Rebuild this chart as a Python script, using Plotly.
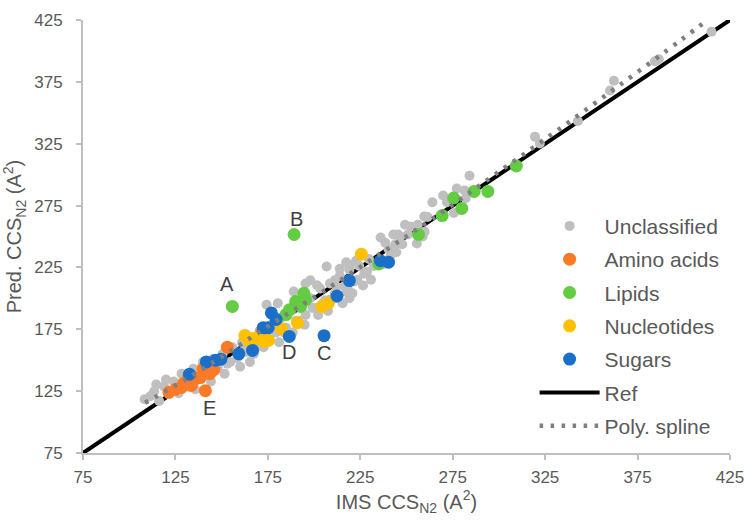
import plotly.graph_objects as go

# ---------------- data ----------------
unclassified_x = [108.3, 111.4, 113.5, 116.2, 118.8, 121.5, 124.1, 126.7, 128.3, 132.0, 134.7, 137.3,
                  139.9, 142.6, 145.2, 147.9, 150.5, 153.1, 155.8, 158.4, 161.1, 163.7, 166.3, 169.0,
                  170.6, 174.3, 176.9, 179.5, 182.2, 184.8, 187.5, 190.1, 192.7, 195.4, 198.0, 200.7,
                  203.3, 205.9, 208.6, 211.2, 213.9, 216.5, 219.1, 221.8, 224.4, 227.1, 229.7, 232.3,
                  236.0, 240.3, 244.0, 246.6, 249.2, 252.4, 255.6, 259.8, 261.4, 264.0, 269.8, 271.9,
                  275.6, 277.2, 281.4, 282.0, 284.1, 319.5, 322.1, 342.7, 360.1, 362.2, 384.4, 386.5,
                  415.0,
                  114.6, 119.9, 125.2, 130.4, 135.7, 138.9, 144.2, 146.3, 151.6, 154.7, 160.0, 162.6,
                  165.3, 167.4, 172.7, 175.8, 181.1, 183.8, 188.5, 191.7, 194.9, 199.1, 202.2, 204.9,
                  207.5, 211.8, 215.4, 218.1, 220.7, 223.4, 226.5, 228.6, 230.8, 237.6, 241.3, 244.5,
                  242.9, 250.8, 247.7, 256.1, 258.7,
                  206.8, 213.9, 219.1, 217.4, 222.7, 198.0, 201.6, 211.2, 212.1, 217.4, 219.1, 208.6,
                  174.3, 180.4, 189.0, 195.4, 238.5, 245.5, 259.6]
unclassified_y = [118.5, 120.9, 124.9, 117.0, 128.8, 122.5, 132.8, 123.3, 139.1, 128.8, 143.1, 134.4,
                  148.6, 139.1, 151.0, 143.9, 155.0, 147.1, 160.5, 151.8, 164.5, 156.6, 168.4, 160.5,
                  174.0, 166.1, 178.7, 172.4, 184.3, 176.3, 189.8, 181.9, 196.1, 186.6, 200.1, 192.2,
                  208.0, 198.5, 212.0, 204.1, 218.3, 209.6, 223.1, 213.6, 226.2, 219.9, 231.8, 226.2,
                  249.2, 239.7, 243.7, 250.0, 259.5, 257.9, 244.4, 253.9, 265.8, 277.7, 283.2, 277.7,
                  269.0, 288.8, 287.2, 280.9, 299.1, 330.7, 325.2, 343.4, 368.0, 375.9, 391.7, 393.3,
                  415.5,
                  130.4, 134.4, 126.5, 136.0, 126.5, 139.1, 132.8, 143.9, 139.1, 148.6, 144.7, 160.5,
                  148.6, 155.0, 160.5, 168.4, 164.5, 172.4, 172.4, 181.9, 178.7, 192.2, 186.6, 196.1,
                  189.8, 200.1, 196.1, 208.0, 204.1, 215.1, 210.4, 221.5, 215.1, 227.8, 234.2, 237.3,
                  251.6, 251.6, 243.7, 259.5, 250.0,
                  225.7, 223.9, 226.5, 229.2, 230.4, 214.6, 210.6, 214.6, 209.4, 205.4, 200.1, 198.8,
                  194.8, 196.1, 205.6, 212.0, 245.0, 251.6, 266.1]

amino_x = [121.5, 125.2, 128.3, 129.4, 132.0, 133.6, 136.2, 138.4, 139.9, 141.2, 142.6, 143.6, 145.8, 153.1, 171.6]
amino_y = [124.1, 126.5, 128.0, 131.2, 136.0, 129.6, 135.2, 136.0, 143.1, 125.4, 144.7, 139.1, 142.3, 160.5, 172.4]

lipids_x = [155.8, 189.2, 184.8, 186.6, 190.1, 192.7, 194.5, 195.4, 235.0, 256.5, 269.3, 275.5, 279.9, 286.6, 294.0, 309.4]
lipids_y = [193.5, 251.6, 186.9, 190.8, 197.5, 193.5, 204.1, 198.8, 227.8, 251.6, 266.9, 281.1, 272.7, 286.4, 286.4, 307.0]

nucleotides_x = [162.6, 164.8, 167.4, 170.0, 172.7, 175.3, 182.2, 191.0, 204.2, 207.7, 225.6]
nucleotides_y = [170.0, 166.1, 167.6, 168.4, 165.3, 166.1, 175.6, 180.3, 193.5, 196.1, 235.7]

sugars_x = [132.6, 141.7, 146.8, 149.6, 159.3, 166.7, 172.5, 175.2, 176.9, 179.5, 186.6, 205.4, 212.4, 219.1, 235.9, 240.3]
sugars_y = [138.7, 148.6, 150.0, 150.8, 155.2, 157.9, 176.3, 176.3, 188.2, 182.9, 169.2, 169.8, 201.9, 214.4, 230.4, 229.2]

ref_x = [75, 425]
ref_y = [75, 425]

spline_x = [108.6, 129.4, 154.0, 179.5, 204.2, 234.1, 264.0, 297.4, 331.4, 365.2, 398.7, 412.8]
spline_y = [115.6, 133.4, 156.6, 181.7, 204.9, 234.4, 264.2, 299.6, 335.5, 372.2, 409.1, 425.0]

label_text = ["A", "B", "C", "D", "E"]
label_x = [155.8, 189.2, 205.4, 186.6, 141.2]
label_y = [193.5, 251.6, 169.8, 169.2, 125.4]
label_dx = [-5, 2, 0, 0, 4]
label_dy = [22, 16, -17, -16, -17]

tick_vals = [75, 125, 175, 225, 275, 325, 375, 425]

# ---------------- style ----------------
FONT = "Liberation Sans, Arial, sans-serif"
TXT = "#595959"
AX = "#bfbfbf"

fig = go.Figure()

fig.add_trace(go.Scatter(x=ref_x, y=ref_y, mode="lines", name="Ref",
                         line=dict(color="black", width=4), legendrank=6, legendgroup="ref"))

groups = [
    ("Unclassified", unclassified_x, unclassified_y, "#bfbfbf", 10, 1),
    ("Amino acids", amino_x, amino_y, "#fb7a28", 13, 2),
    ("Lipids", lipids_x, lipids_y, "#63cc42", 13, 3),
    ("Nucleotides", nucleotides_x, nucleotides_y, "#ffc000", 13, 4),
    ("Sugars", sugars_x, sugars_y, "#1a6fc9", 13, 5),
]
for name, xs, ys, col, sz, rk in groups:
    fig.add_trace(go.Scatter(x=xs, y=ys, mode="markers", name=name,
                             marker=dict(color=col, size=sz, line=dict(width=0)),
                             legendrank=rk, legendgroup=name))

fig.add_trace(go.Scatter(x=spline_x, y=spline_y, mode="lines", name="Poly. spline",
                         line=dict(color="#7f7f7f", width=4.5, dash="3.5px,7.5px", shape="spline"),
                         legendrank=7, legendgroup="spline"))

for t, x, y, dx, dy in zip(label_text, label_x, label_y, label_dx, label_dy):
    fig.add_annotation(x=x, y=y, text=t, showarrow=False, xshift=dx, yshift=dy,
                       font=dict(family=FONT, size=20, color="#404040"))

axis_common = dict(range=[75, 425], tickvals=tick_vals, showgrid=False, zeroline=False,
                   showline=True, linecolor=AX, linewidth=2,
                   ticks="outside", ticklen=5, tickwidth=1.5, tickcolor=AX,
                   ticklabeloverflow="allow",
                   tickfont=dict(family=FONT, size=17, color=TXT))

fig.update_layout(
    width=755, height=521,
    margin=dict(l=77, r=15, t=11, b=68),
    paper_bgcolor="white", plot_bgcolor="white",
    font=dict(family=FONT, color=TXT),
    xaxis=dict(**axis_common, ticklabelstandoff=3,
               title=dict(text="IMS CCS<sub>N2</sub> (A<sup>2</sup>)",
                          font=dict(family=FONT, size=20, color=TXT), standoff=0)),
    yaxis=dict(**axis_common, ticklabelstandoff=10,
               title=dict(text="Pred. CCS<sub>N2</sub> (A<sup>2</sup>)",
                          font=dict(family=FONT, size=20, color=TXT), standoff=9)),
    xaxis2=dict(range=[75, 425], tickvals=tick_vals, overlaying="x", anchor="y",
                side="bottom", showgrid=False, zeroline=False, showline=False,
                ticks="inside", ticklen=5, tickwidth=1.5, tickcolor=AX,
                showticklabels=False),
    yaxis2=dict(range=[75, 425], tickvals=tick_vals, overlaying="y", anchor="x",
                side="left", showgrid=False, zeroline=False, showline=False,
                ticks="inside", ticklen=5, tickwidth=1.5, tickcolor=AX,
                showticklabels=False),
    showlegend=True,
    legend=dict(x=0.698, xanchor="left", y=0.571, yanchor="top",
                bgcolor="rgba(0,0,0,0)", itemwidth=60,
                font=dict(family=FONT, size=21, color=TXT),
                traceorder="grouped", tracegroupgap=3),
)

# remove the browser's default 8px page margin so the 755x521 figure fills the window
fig.write_html("out.html", config={"displayModeBar": False},
               post_script="document.body.style.margin='0';")
